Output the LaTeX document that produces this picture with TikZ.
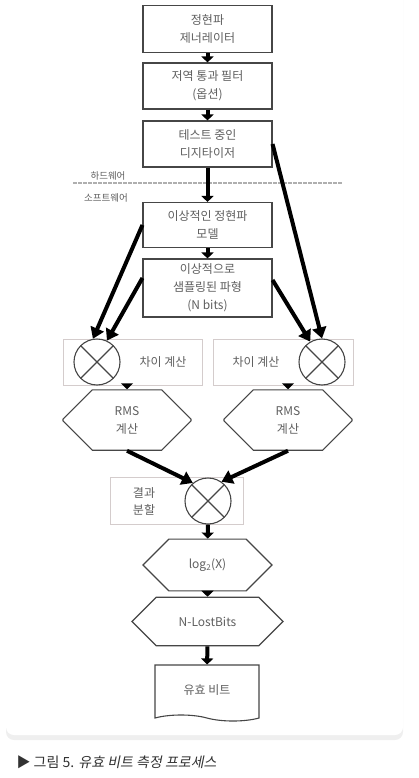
\documentclass[tikz,border=0pt]{standalone}
\usepackage{fontspec}
\setmainfont{Noto Sans CJK KR}
\newfontfamily\slantfont[FakeSlant=0.2]{Noto Sans CJK KR}
\usetikzlibrary{arrows.meta,shapes.misc,shapes.symbols,shadows}

\begin{document}
\begin{tikzpicture}[x=1pt, y=-1pt,
  box/.style={draw=boxgray, line width=1.1pt, minimum width=129pt, align=center,
    text=textgray, inner sep=2pt, font=\fontsize{12}{18}\selectfont},
  frame/.style={draw=framegray, line width=0.9pt, minimum height=46pt},
  mixer/.style={circle, draw=boxgray, line width=1.1pt, minimum size=46pt, inner sep=0pt,
    path picture={\draw[boxgray, line width=1.1pt]
      (path picture bounding box.north west) -- (path picture bounding box.south east)
      (path picture bounding box.north east) -- (path picture bounding box.south west);}},
  hexa/.style={box, chamfered rectangle, chamfered rectangle corners={north west,south west,north east,south east}},
  label/.style={text=textgray, align=center, font=\fontsize{12}{17}\selectfont},
  flow/.style={line width=4pt, -{Triangle[width=12pt,length=6pt]}},
  feed/.style={line width=4pt, -{Triangle[width=14pt,length=11pt]}},
]
  % colors
  \definecolor{boxgray}{RGB}{70,70,70}
  \definecolor{textgray}{RGB}{95,95,95}
  \definecolor{framegray}{RGB}{212,204,204}
  \definecolor{dashgray}{RGB}{175,175,175}
  \definecolor{captiongray}{RGB}{50,50,50}

  % page and card
  \useasboundingbox (0,0) rectangle (418,778);
  \fill[white] (0,0) rectangle (418,778);
  \fill[white, rounded corners=8pt,
    drop shadow={shadow xshift=0pt, shadow yshift=-5pt, opacity=0.12}]
    (6,-20) rectangle (403,735);

  % hardware chain
  \node[box, minimum height=47pt] (gen) at (207.5,29) {정현파\\제너레이터};
  \node[box, minimum height=46pt] (lpf) at (207.5,86) {저역 통과 필터\\(옵션)};
  \node[box, minimum height=46pt] (dut) at (207.5,144) {테스트 중인\\디지타이저};

  % hardware / software border
  \draw[dashgray, line width=1.5pt, dash pattern=on 4pt off 1pt] (73,183) -- (342,183);
  \node[text=textgray, font=\fontsize{9.5}{11}\selectfont] (hw) at (108,176) {하드웨어};
  \node[text=textgray, font=\fontsize{9.5}{11}\selectfont] (sw) at (106,198) {소프트웨어};

  % software models
  \node[box, minimum height=45pt] (model) at (207.5,225) {이상적인 정현파\\모델};
  \node[box, minimum height=58pt] (ideal) at (207.5,288) {이상적으로\\샘플링된 파형\\(N bits)};

  % difference stages
  \node[frame, minimum width=139pt] (diffL) at (132.5,362) {};
  \node[frame, minimum width=140pt] (diffR) at (283,362) {};
  \node[mixer] (xL) at (97,362) {};
  \node[mixer] (xR) at (322,362) {};
  \node[label] (tL) at (163,362) {차이 계산};
  \node[label] (tR) at (256,362) {차이 계산};

  % rms
  \node[hexa, minimum width=128pt, minimum height=46pt,
    chamfered rectangle xsep=15pt, chamfered rectangle ysep=23pt] (rmsL) at (127,420) {RMS\\계산};
  \node[hexa, minimum width=128pt, minimum height=46pt,
    chamfered rectangle xsep=15pt, chamfered rectangle ysep=23pt] (rmsR) at (288,420) {RMS\\계산};

  % ratio
  \node[frame, minimum width=133pt, minimum height=47pt] (ratio) at (176.5,500.5) {};
  \node[mixer] (xO) at (208,501) {};
  \node[label] (tO) at (144,501) {결과\\분할};

  % result chain
  \node[hexa, minimum width=129pt, minimum height=35pt,
    chamfered rectangle xsep=17pt, chamfered rectangle ysep=17.5pt] (log) at (207.5,565) {log\textsubscript{2}(X)};
  \node[hexa, minimum width=151pt, minimum height=35pt,
    chamfered rectangle xsep=22pt, chamfered rectangle ysep=17.5pt] (lost) at (207.5,621.5) {N-LostBits};
  \node[box, tape, tape bend top=none, tape bend bottom=out and in, tape bend height=6pt,
    minimum width=104pt, minimum height=56pt] (enob) at (207,690) {유효 비트};

  % arrows
  \draw[flow] (gen) -- (lpf);
  \draw[flow] (lpf) -- (dut);
  \draw[flow] (dut) -- (model);
  \draw[flow] (model) -- (ideal);
  \draw[feed] (dut.east) -- (xR.north);
  \draw[feed] (model.west) -- (xL.100);
  \draw[feed] ([yshift=10pt]ideal.west) -- (xL.65);
  \draw[feed] ([yshift=8pt]ideal.east) -- (xR.120);
  \draw[flow] (rmsL.north |- diffL.south) -- (rmsL.north);
  \draw[flow] (rmsR.north |- diffR.south) -- (rmsR.north);
  \draw[feed] (rmsL.south) -- (xO.130);
  \draw[feed] (rmsR.south) -- (xO.55);
  \draw[flow] (xO) -- (log);
  \draw[flow] (log) -- (lost);
  \draw[flow] (lost) -- (enob);

  % caption
  \node[anchor=west, text=captiongray, font=\fontsize{14}{16}\selectfont] (caption) at (13,762)
    {▶ 그림 5. {\slantfont 유효 비트 측정 프로세스}};
\end{tikzpicture}
\end{document}
